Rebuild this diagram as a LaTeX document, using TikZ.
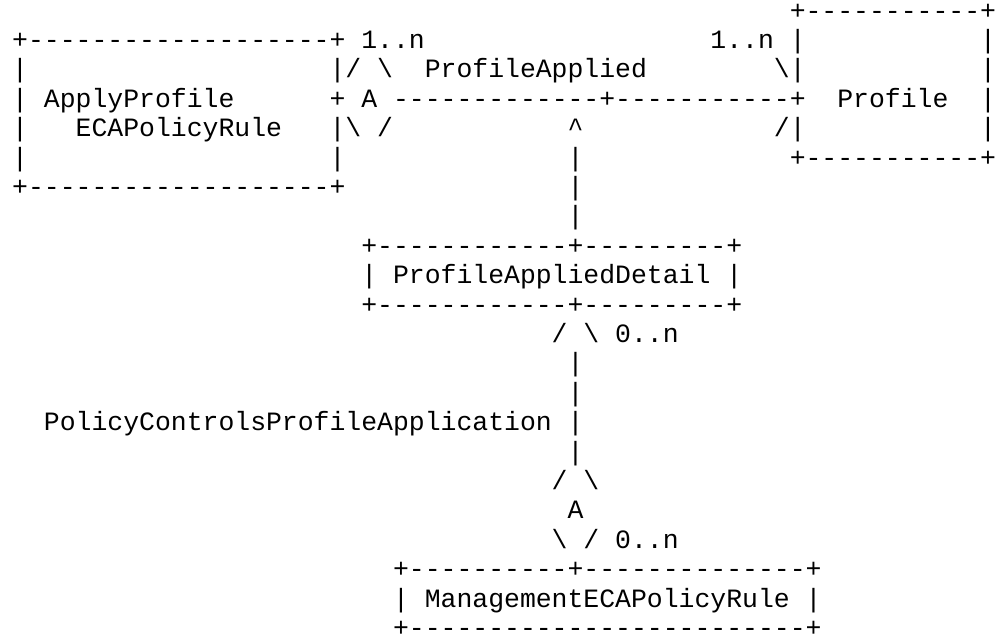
\documentclass[tikz,border=0pt]{standalone}
\usepackage{fontspec}
\setmonofont{Liberation Mono}

\begin{document}
\begin{tikzpicture}[x=15.868pt, y=-29.4pt,
    ascii/.style={anchor=base west, inner sep=0pt, outer sep=0pt,
      font=\ttfamily\fontsize{26.45pt}{29.4pt}\selectfont\frenchspacing}]
    \fill [white] (-12.21pt,-10.3pt) rectangle (983.79pt,-644.3pt);
    \useasboundingbox (-12.21pt,-10.3pt) rectangle (983.79pt,-644.3pt);
    % Profile box, top right
    \node[ascii] (profTop) at (49,1) {+-----------+};
    \node[ascii] (applyTop) at (0,2) {+-------------------+};
    \node[ascii] (multL) at (22,2) {1..n};
    \node[ascii] (multR) at (44,2) {1..n |};
    \node[ascii] (profSideA) at (61,2) {|};
    \node[ascii] (applySideA) at (0,3) {|};
    \node[ascii] (aggTop) at (20,3) {|/ \textbackslash};
    \node[ascii] (assocName) at (26,3) {ProfileApplied};
    \node[ascii] (arrTop) at (48,3) {\textbackslash|};
    \node[ascii] (profSideB) at (61,3) {|};
    \node[ascii] (applyName) at (0,4) {| ApplyProfile};
    \node[ascii] (assocLine) at (20,4) {+ A -------------+-----------+};
    \node[ascii] (profName) at (52,4) {Profile};
    \node[ascii] (profSideC) at (61,4) {|};
    \node[ascii] (applySideB) at (0,5) {|};
    \node[ascii] (applyName2) at (4,5) {ECAPolicyRule};
    \node[ascii] (aggBot) at (20,5) {|\textbackslash{} /};
    \node[ascii] (caret) at (35,5) {\textasciicircum};
    \node[ascii] (arrBot) at (48,5) {/|};
    \node[ascii] (profSideD) at (61,5) {|};
    \node[ascii] (applySideC) at (0,6) {|};
    \node[ascii] (applySideD) at (20,6) {|};
    \node[ascii] (stemA) at (35,6) {|};
    \node[ascii] (profBot) at (49,6) {+-----------+};
    \node[ascii] (applyBot) at (0,7) {+-------------------+};
    \node[ascii] (stemB) at (35,7) {|};
    \node[ascii] (stemC) at (35,8) {|};
    % association class
    \node[ascii] (detailTop) at (22,9) {+------------+---------+};
    \node[ascii] (detailName) at (22,10) {| ProfileAppliedDetail |};
    \node[ascii] (detailBot) at (22,11) {+------------+---------+};
    \node[ascii] (aggTop2) at (34,12) {/ \textbackslash{} 0..n};
    \node[ascii] (stemD) at (35,13) {|};
    \node[ascii] (stemE) at (35,14) {|};
    \node[ascii] (controlName) at (2,15) {PolicyControlsProfileApplication |};
    \node[ascii] (stemF) at (35,16) {|};
    \node[ascii] (aggUp) at (34,17) {/ \textbackslash};
    \node[ascii] (aggMid) at (35,18) {A};
    \node[ascii] (aggDown) at (34,19) {\textbackslash{} / 0..n};
    % management rule box
    \node[ascii] (mgmtTop) at (24,20) {+----------+--------------+};
    \node[ascii] (mgmtName) at (24,21) {| ManagementECAPolicyRule |};
    \node[ascii] (mgmtBot) at (24,22) {+-------------------------+};
\end{tikzpicture}
\end{document}
